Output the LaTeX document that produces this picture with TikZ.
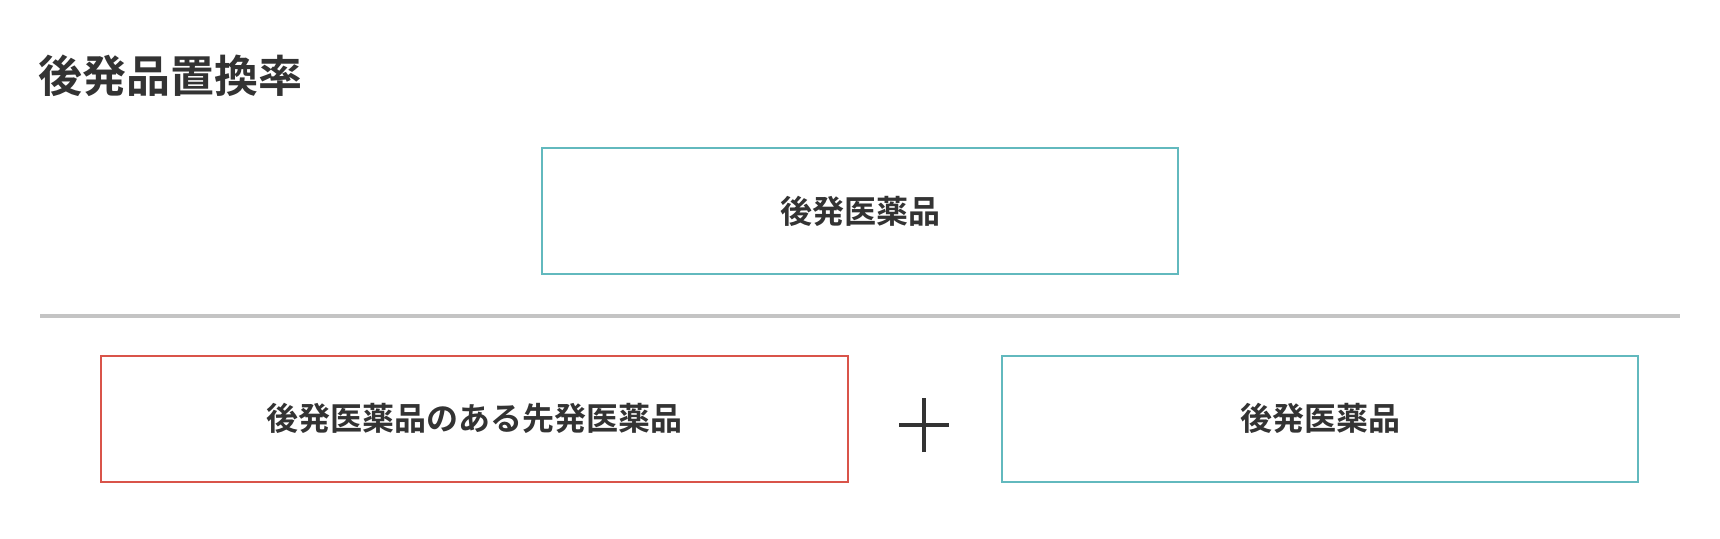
\documentclass[tikz,border=0pt]{standalone}
\usepackage{fontspec}
\newfontfamily\jp{Noto Sans CJK JP}[BoldFont={* Bold}]
\definecolor{tealc}{RGB}{98,185,190}
\definecolor{redc}{RGB}{217,84,74}
\definecolor{grayc}{RGB}{196,196,196}
\definecolor{txt}{RGB}{51,51,51}
\newcommand{\lowtxt}[1]{\raisebox{-3pt}{#1}}
\begin{document}
\begin{tikzpicture}[x=1pt,y=-1pt,
  box/.style={draw, line width=2pt, minimum height=126pt, inner sep=0pt,
    text=txt, font=\jp\bfseries\fontsize{32}{36}\selectfont},
  tealbox/.style={box, draw=tealc, minimum width=636pt},
  redbox/.style={box, draw=redc, minimum width=747pt}]
\useasboundingbox (0,0) rectangle (1720,538);
\fill[white] (0,0) rectangle (1720,538);
\node[anchor=west, inner sep=0pt, text=txt, font=\jp\bfseries\fontsize{44}{50}\selectfont] (title) at (38,76) {後発品置換率};
\node[tealbox] (num) at (860,211) {\lowtxt{後発医薬品}};
\coordinate (ll) at (40,316);
\coordinate (lr) at (1680,316);
\draw[grayc, line width=4pt] (ll) -- (lr);
\node[redbox] (orig) at (474.5,418.7) {\lowtxt{後発医薬品のある先発医薬品}};
\node[tealbox] (gen) at (1320,418.7) {\lowtxt{後発医薬品}};
\coordinate (plus) at (924,425);
\draw[txt, line width=3.5pt] ([xshift=-25pt]plus) -- ([xshift=25pt]plus);
\draw[txt, line width=3.5pt] ([yshift=-27pt]plus) -- ([yshift=27pt]plus);
\end{tikzpicture}
\end{document}
